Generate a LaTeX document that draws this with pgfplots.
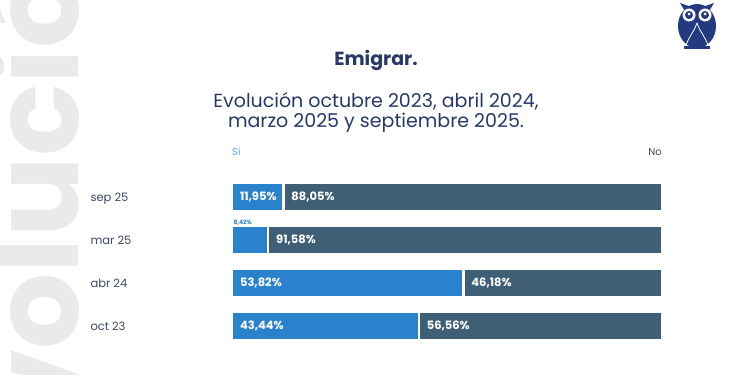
\documentclass[border=0pt]{standalone}
\usepackage{pgfplots}
\pgfplotsset{compat=1.18}
\usepackage{fontspec}
\setmainfont{Poppins}
\definecolor{si}{RGB}{42,130,204}
\definecolor{no}{RGB}{62,95,117}
\definecolor{navy}{RGB}{40,56,104}
\definecolor{lab}{RGB}{60,72,100}
\definecolor{wm}{RGB}{234,234,236}
\definecolor{owl}{RGB}{36,58,128}
\definecolor{sihead}{RGB}{100,160,215}
\pgfplotstableread{
x y v
0 0 43.44
0 1 53.82
0 3 11.95
43.44 0 56.56
53.82 1 46.18
8.42 2 91.58
11.95 3 88.05
}\labels
\begin{document}
\begin{tikzpicture}
\useasboundingbox (0pt,0pt) rectangle (750pt,375pt);
\clip (0pt,0pt) rectangle (750pt,375pt);
\node[rotate=90, anchor=base, text=wm, font=\fontsize{120}{120}\selectfont\bfseries, inner sep=0] at (78pt,180pt) {evolución};
% title
\node[text=navy, font=\fontsize{19}{22}\selectfont\bfseries] at (376pt,314pt) {Emigrar.};
\node[text=navy, font=\fontsize{19}{20}\selectfont, align=center] at (376pt,263pt) {Evolución octubre 2023, abril 2024,\\marzo 2025 y septiembre 2025.};
% owl logo
\fill[owl] (697pt,349pt) ellipse (19pt and 22pt);
\fill[owl] (680pt,372pt) -- (686pt,362pt) -- (708pt,362pt) -- (714pt,372pt) -- (697pt,366pt) -- cycle;
\fill[white] (689pt,360pt) circle (6.5pt);
\fill[white] (705pt,360pt) circle (6.5pt);
\fill[owl] (689pt,360pt) circle (4pt);
\fill[owl] (705pt,360pt) circle (4pt);
\fill[white] (689pt,361pt) circle (1.5pt);
\fill[white] (705pt,361pt) circle (1.5pt);
\draw[white, line width=0.8pt] (686pt,330pt) .. controls (690pt,340pt) and (695pt,345pt) .. (697pt,352pt);
\draw[white, line width=0.8pt] (708pt,330pt) .. controls (704pt,340pt) and (699pt,345pt) .. (697pt,352pt);
\fill[owl] (684pt,326pt) rectangle (710pt,328.5pt);
\begin{axis}[at={(232pt,27.5pt)}, anchor=south west, scale only axis,
  width=430pt, height=172pt, xbar stacked, bar width=28.5pt,
  xmin=0, xmax=100, ymin=-0.5, ymax=3.5, clip=false,
  axis line style={draw=none}, tick style={draw=none}, xtick=\empty,
  ytick={0,1,2,3}, yticklabels={oct 23, abr 24, mar 25, sep 25},
  yticklabel style={anchor=base west, xshift=-145pt, yshift=-4.3pt, text=lab, font=\fontsize{11.5}{14}\selectfont}]
\addplot[fill=si, draw=white, line width=2.5pt] coordinates {(43.44,0) (53.82,1) (8.42,2) (11.95,3)};
\addplot[fill=no, draw=white, line width=2.5pt] coordinates {(56.56,0) (46.18,1) (91.58,2) (88.05,3)};
\end{axis}
\begin{axis}[at={(232pt,27.5pt)}, anchor=south west, scale only axis,
  width=430pt, height=172pt, xmin=0, xmax=100, ymin=-0.5, ymax=3.5, clip=false,
  hide axis, /pgf/number format/assume math mode=true]
\addplot[draw=none, mark=none, nodes near coords={\pgfmathprintnumber[fixed, fixed zerofill, precision=2, use comma]{\pgfplotspointmeta}\%},
  point meta=explicit, nodes near coords style={anchor=west, xshift=4.5pt, text=white, font=\fontsize{11.5}{12}\selectfont\bfseries}]
  table[x=x, y=y, meta=v] {\labels};
\addplot[draw=none, mark=none, nodes near coords={\pgfmathprintnumber[fixed, fixed zerofill, precision=2, use comma]{\pgfplotspointmeta}\%},
  point meta=explicit, nodes near coords style={anchor=west, xshift=-2pt, text=si, font=\fontsize{6}{7}\selectfont\bfseries}]
  table[x=x, y=y, meta=v] {
x y v
0 2.40 8.42
};
\node[anchor=west, text=sihead, font=\fontsize{10}{11}\selectfont, inner sep=0] at (axis cs:0,4.05) {Si};
\node[anchor=east, text=lab, font=\fontsize{10}{11}\selectfont, inner sep=0] at (axis cs:100,4.05) {No};
\end{axis}
\end{tikzpicture}
\end{document}
